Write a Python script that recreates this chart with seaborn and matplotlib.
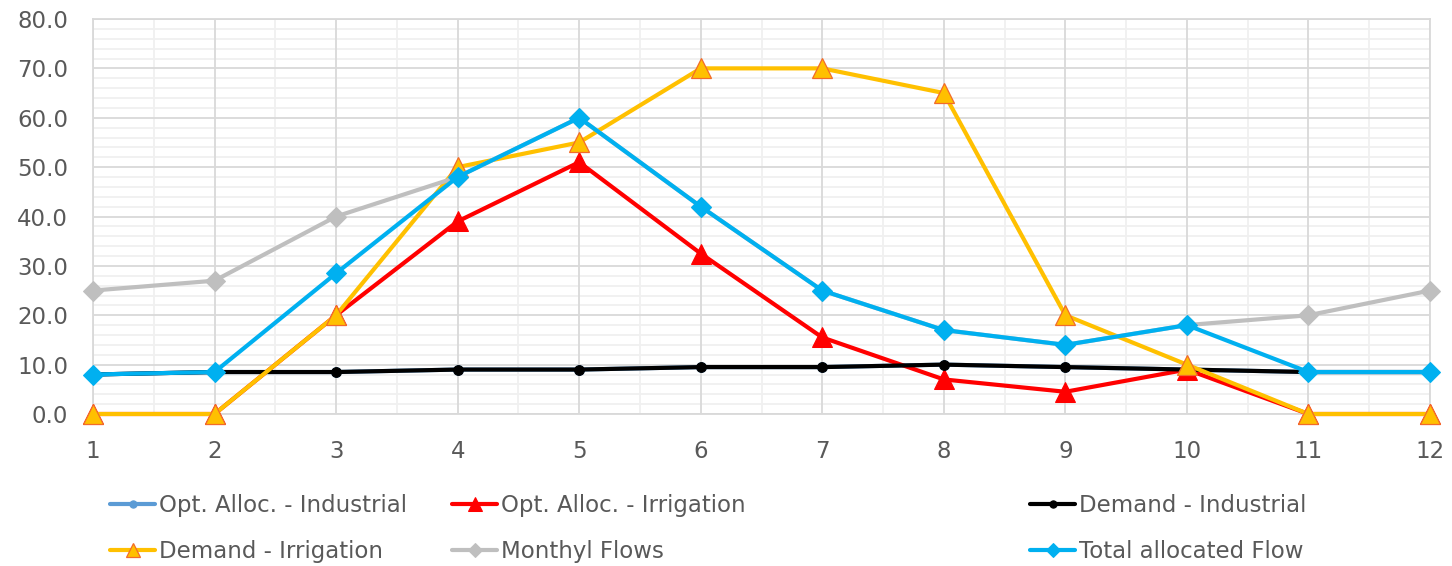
import matplotlib
matplotlib.use("Agg")
import numpy as np
import matplotlib.pyplot as plt
from matplotlib.ticker import MultipleLocator, FormatStrFormatter
import seaborn as sns

# Monthly series (months 1..12)
months = [1, 2, 3, 4, 5, 6, 7, 8, 9, 10, 11, 12]
opt_alloc_industrial = [8.0, 8.5, 8.5, 9.0, 9.0, 9.5, 9.5, 10.0, 9.5, 9.0, 8.5, 8.5]
opt_alloc_irrigation = [0.0, 0.0, 20.0, 39.0, 51.0, 32.5, 15.5, 7.0, 4.5, 9.0, 0.0, 0.0]
demand_industrial = [8.0, 8.5, 8.5, 9.0, 9.0, 9.5, 9.5, 10.0, 9.5, 9.0, 8.5, 8.5]
demand_irrigation = [0.0, 0.0, 20.0, 50.0, 55.0, 70.0, 70.0, 65.0, 20.0, 10.0, 0.0, 0.0]
monthly_flows = [25.0, 27.0, 40.0, 48.0, 60.0, 42.0, 25.0, 17.0, 14.0, 18.0, 20.0, 25.0]
total_allocated = [8.0, 8.5, 28.5, 48.0, 60.0, 42.0, 25.0, 17.0, 14.0, 18.0, 8.5, 8.5]

labels = ["Opt. Alloc. - Industrial", "Opt. Alloc. - Irrigation", "Demand - Industrial",
          "Demand - Irrigation", "Monthyl Flows", "Total allocated Flow"]

sns.set_theme(style="white")
plt.rcParams["font.family"] = ["DejaVu Sans"]

TEXT = "#595959"
FS = 16.5
fig = plt.figure(figsize=(14.52, 5.66), dpi=100)
ax = fig.add_axes([93 / 1452, 1 - 414 / 566, (1430 - 93) / 1452, (414 - 19) / 566])

styles = [
    (opt_alloc_industrial, dict(color="#5B9BD5", marker="o", markersize=7,
                                markerfacecolor="#5B9BD5", markeredgecolor="#5B9BD5")),
    (opt_alloc_irrigation, dict(color="#FF0000", marker="^", markersize=14,
                                markerfacecolor="#FF0000", markeredgecolor="#FF0000")),
    (demand_industrial, dict(color="#000000", marker="o", markersize=7,
                             markerfacecolor="#000000", markeredgecolor="#000000")),
    (demand_irrigation, dict(color="#FFC000", marker="^", markersize=14,
                             markerfacecolor="#FFC000", markeredgecolor="#F26B2A",
                             markeredgewidth=0.9)),
    (monthly_flows, dict(color="#BFBFBF", marker="D", markersize=10,
                         markerfacecolor="#BFBFBF", markeredgecolor="#BFBFBF")),
    (total_allocated, dict(color="#00B0F0", marker="D", markersize=10,
                           markerfacecolor="#00B0F0", markeredgecolor="#00B0F0")),
]

for z, ((vals, kw), lab) in enumerate(zip(styles, labels)):
    sns.lineplot(x=months, y=vals, ax=ax, linewidth=3.0, label=lab, sort=False,
                 clip_on=False, zorder=3 + z, **kw)

ax.set_xlim(1, 12)
ax.set_ylim(0, 80)
ax.xaxis.set_major_locator(MultipleLocator(1))
ax.yaxis.set_major_locator(MultipleLocator(10))
ax.yaxis.set_major_formatter(FormatStrFormatter("%.1f"))

# light minor grid underneath, stronger major grid on top of it
for xv in np.arange(1.5, 12, 1.0):
    ax.axvline(xv, color="#F0F0F0", linewidth=1.3, zorder=0.1)
for yv in np.arange(2, 80, 2):
    if yv % 10:
        ax.axhline(yv, color="#F0F0F0", linewidth=1.3, zorder=0.1)
ax.grid(which="major", color="#D9D9D9", linewidth=1.3)
ax.set_axisbelow(True)
for s in ax.spines.values():
    s.set_color("#D9D9D9")
    s.set_linewidth(1.3)
ax.tick_params(axis="both", which="both", length=0, labelsize=FS, labelcolor=TEXT)
ax.tick_params(axis="x", pad=19)
ax.tick_params(axis="y", pad=18)
ax.set_xlabel("")
ax.set_ylabel("")

handles, labs = ax.get_legend_handles_labels()
ax.get_legend().remove()

col_x = [110, 452, 1030]
for i, x0 in enumerate(col_x):
    idx = [i, i + 3]
    fig.legend([handles[k] for k in idx], [labs[k] for k in idx],
               loc="center left", bbox_to_anchor=(x0 / 1452, 1 - 528.5 / 566),
               frameon=False, fontsize=FS, handlelength=1.97, handletextpad=0.18,
               borderpad=0, borderaxespad=0, labelspacing=1.0, markerscale=0.75,
               labelcolor=TEXT)

fig.savefig("out.png", dpi=100)
